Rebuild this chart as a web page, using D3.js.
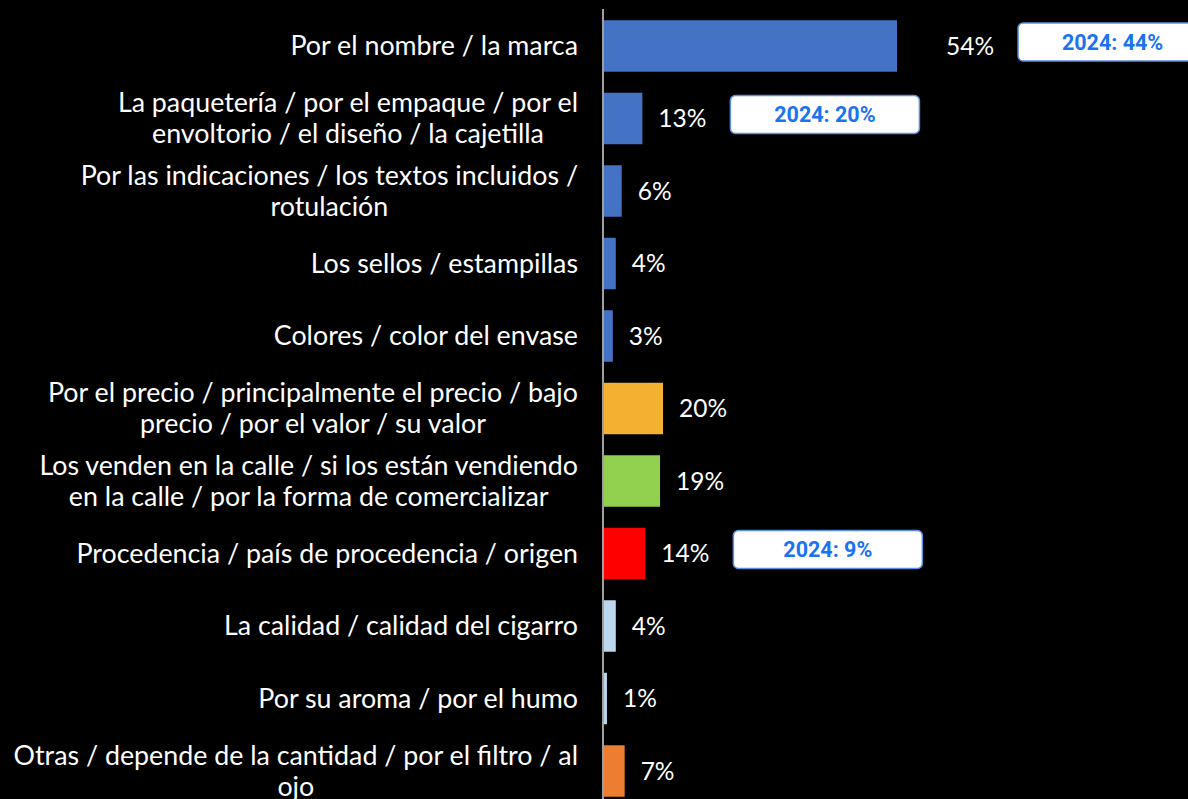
<!DOCTYPE html>
<html>
<head>
<meta charset="utf-8">
<script src="https://cdn.jsdelivr.net/npm/d3@7"></script>
<style>
  html, body { margin: 0; padding: 0; background: #000; }
  svg { display: block; }
</style>
</head>
<body>
<div class="bar-chart"></div>
<script>
// categories, one string per row ("\n" marks the line break of the original)
var categories = [
    "Por el nombre / la marca",
    "La paquetería / por el empaque / por el\nenvoltorio / el diseño / la cajetilla",
    "Por las indicaciones / los textos incluidos /\nrotulación",
    "Los sellos / estampillas",
    "Colores / color del envase",
    "Por el precio / principalmente el precio / bajo\nprecio / por el valor / su valor",
    "Los venden en la calle / si los están vendiendo\nen la calle / por la forma de comercializar",
    "Procedencia / país de procedencia / origen",
    "La calidad / calidad del cigarro",
    "Por su aroma / por el humo",
    "Otras / depende de la cantidad / por el filtro / al\nojo"
];
var values = [54, 13, 6, 4, 3, 20, 19, 14, 4, 1, 7];
var groups = ["marca", "marca", "marca", "marca", "marca", "precio", "calle", "origen", "calidad", "calidad", "otras"];
// previous year values shown in the callouts (null = no callout)
var prev2024 = [44, 20, null, null, null, null, null, 9, null, null, null];

var width = 1188, height = 799;

var svg = d3.select(".bar-chart").append("svg")
    .attr("width", width)
    .attr("height", height);

var y = d3.scaleBand()
    .domain(d3.range(categories.length))
    .range([9.75, 807.25])
    .paddingInner(0.29)
    .paddingOuter(0.145);

// the first bar is drawn longer than the rest in the original, so the scale has two segments
var x = d3.scaleLinear()
    .domain([0, 20, 54])
    .range([604, 663, 897]);

var color = d3.scaleOrdinal()
    .domain(["marca", "precio", "calle", "origen", "calidad", "otras"])
    .range(["#4472C4", "#F4B030", "#92D050", "#FF0000", "#BDD7EE", "#ED7D31"]);

var data = categories.map(function(c, i) {
    return { name: c, value: values[i], group: groups[i], prev: prev2024[i], i: i };
});

// bars
svg.selectAll(".bar")
    .data(data)
    .enter().append("rect")
    .attr("class", "bar")
    .attr("x", x(0))
    .attr("y", function(d) { return y(d.i); })
    .attr("width", function(d) { return x(d.value) - x(0); })
    .attr("height", y.bandwidth())
    .style("fill", function(d) { return color(d.group); });

// axis line
svg.append("line")
    .attr("x1", 603).attr("x2", 603)
    .attr("y1", 9).attr("y2", height)
    .style("stroke", "#c8c8c8")
    .style("stroke-width", 1.6);

// category labels: centred block, widest line right aligned
var labelRight = 578;
var lineH = 31;
var lab = svg.selectAll(".cat")
    .data(data)
    .enter().append("text")
    .attr("class", "cat")
    .style("font-family", "Lato, sans-serif")
    .style("font-size", "26.8px")
    .style("fill", "#fff")
    .attr("text-anchor", "middle");

lab.each(function(d) {
    var t = d3.select(this);
    var lines = d.name.split("\n");
    var cy = y(d.i) + y.bandwidth() / 2;
    lines.forEach(function(l, k) {
        t.append("tspan")
            .attr("y", cy + (k - (lines.length - 1) / 2) * lineH)
            .attr("dy", "0.35em")
            .text(l);
    });
    var maxW = 0;
    t.selectAll("tspan").each(function() {
        maxW = Math.max(maxW, this.getComputedTextLength());
    });
    t.selectAll("tspan").attr("x", labelRight - maxW / 2);
});

// value labels
var vals = svg.selectAll(".val")
    .data(data)
    .enter().append("text")
    .attr("class", "val")
    .attr("x", function(d) { return x(d.value) + (d.value > 20 ? 49 : 16); })
    .attr("y", function(d) { return y(d.i) + y.bandwidth() / 2; })
    .attr("dy", "0.35em")
    .style("font-family", "Lato, sans-serif")
    .style("font-size", "24.5px")
    .style("fill", "#fff")
    .text(function(d) { return d.value + "%"; });

// 2024 callouts
var boxW = 189, boxH = 38;
vals.each(function(d) {
    if (d.prev == null) return;
    var bx = +d3.select(this).attr("x") + this.getComputedTextLength() + 24;
    var cy = y(d.i) + y.bandwidth() / 2 - 4;
    var g = svg.append("g").attr("class", "callout");
    g.append("rect")
        .attr("x", bx)
        .attr("y", cy - boxH / 2)
        .attr("width", boxW)
        .attr("height", boxH)
        .attr("rx", 5)
        .style("fill", "#fff")
        .style("stroke", "#5B8FE0")
        .style("stroke-width", 1.5);
    g.append("text")
        .attr("x", bx + boxW / 2)
        .attr("y", cy)
        .attr("dy", "0.36em")
        .attr("text-anchor", "middle")
        .style("font-family", "Roboto, sans-serif")
        .style("font-weight", "bold")
        .style("font-size", "21.5px")
        .style("fill", "#1A73F0")
        .text("2024: " + d.prev + "%");
});
</script>
</body>
</html>
